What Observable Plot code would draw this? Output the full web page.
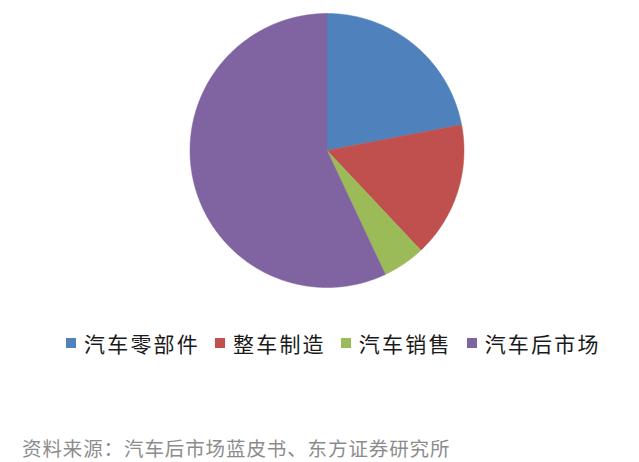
<!DOCTYPE html>
<html>
<head>
<meta charset="utf-8">
<script src="https://cdn.jsdelivr.net/npm/d3@7"></script>
<script src="https://cdn.jsdelivr.net/npm/@observablehq/plot@0.6"></script>
<style>
  html, body { margin: 0; padding: 0; background: #fff; }
  #wrap { position: relative; width: 639px; height: 462px; overflow: hidden; }
  #chart { position: absolute; left: 0; top: 0; }
  #legend { position: absolute; left: 66px; top: 328px; display: flex; align-items: center;
    font-family: "Noto Sans CJK SC", sans-serif; font-size: 21px; letter-spacing: 2.2px; color: #1a1a1a; }
  .item { display: flex; align-items: center; margin-right: 15px; }
  .sw { width: 10px; height: 10px; margin-right: 8px; }
  #caption { position: absolute; left: 22px; top: 433px; font-family: "Noto Sans CJK SC", sans-serif;
    font-size: 19.5px; letter-spacing: 0.9px; color: #8c8c8c; }
</style>
</head>
<body>
<div id="wrap">
  <div id="chart"></div>
  <div id="legend"></div>
  <div id="caption">资料来源：汽车后市场蓝皮书、东方证券研究所</div>
</div>
<script>
const categories = ["汽车零部件", "整车制造", "汽车销售", "汽车后市场"];
const shares = [22, 16, 5, 57];
const colors = ["#4F81BD", "#C0504D", "#9BBB59", "#8064A2"];

const pie = d3.pie().sort(null).value(d => d.v)(categories.map((c, i) => ({c, v: shares[i]})));
const pts = [];
for (const a of pie) {
  const n = Math.max(2, Math.ceil((a.endAngle - a.startAngle) / 0.01));
  pts.push({c: a.data.c, x: 0, y: 0});
  for (let k = 0; k <= n; k++) {
    const t = a.startAngle + (a.endAngle - a.startAngle) * k / n;
    pts.push({c: a.data.c, x: Math.sin(t), y: Math.cos(t)});
  }
  pts.push({c: a.data.c, x: 0, y: 0});
}

const chart = Plot.plot({
  width: 639,
  height: 300,
  marginLeft: 189.5,
  marginRight: 639 - 463.5,
  marginTop: 13,
  marginBottom: 13,
  x: {domain: [-1, 1], axis: null},
  y: {domain: [-1, 1], axis: null},
  color: {domain: categories, range: colors},
  marks: [
    Plot.line(pts, {x: "x", y: "y", z: "c", fill: "c", stroke: "c", strokeWidth: 0.5, curve: "linear"})
  ]
});
document.getElementById("chart").appendChild(chart);

const legend = document.getElementById("legend");
categories.forEach((c, i) => {
  const it = document.createElement("div");
  it.className = "item";
  const sw = document.createElement("span");
  sw.className = "sw";
  sw.style.background = colors[i];
  const tx = document.createElement("span");
  tx.textContent = c;
  it.appendChild(sw); it.appendChild(tx);
  legend.appendChild(it);
});
</script>
</body>
</html>
